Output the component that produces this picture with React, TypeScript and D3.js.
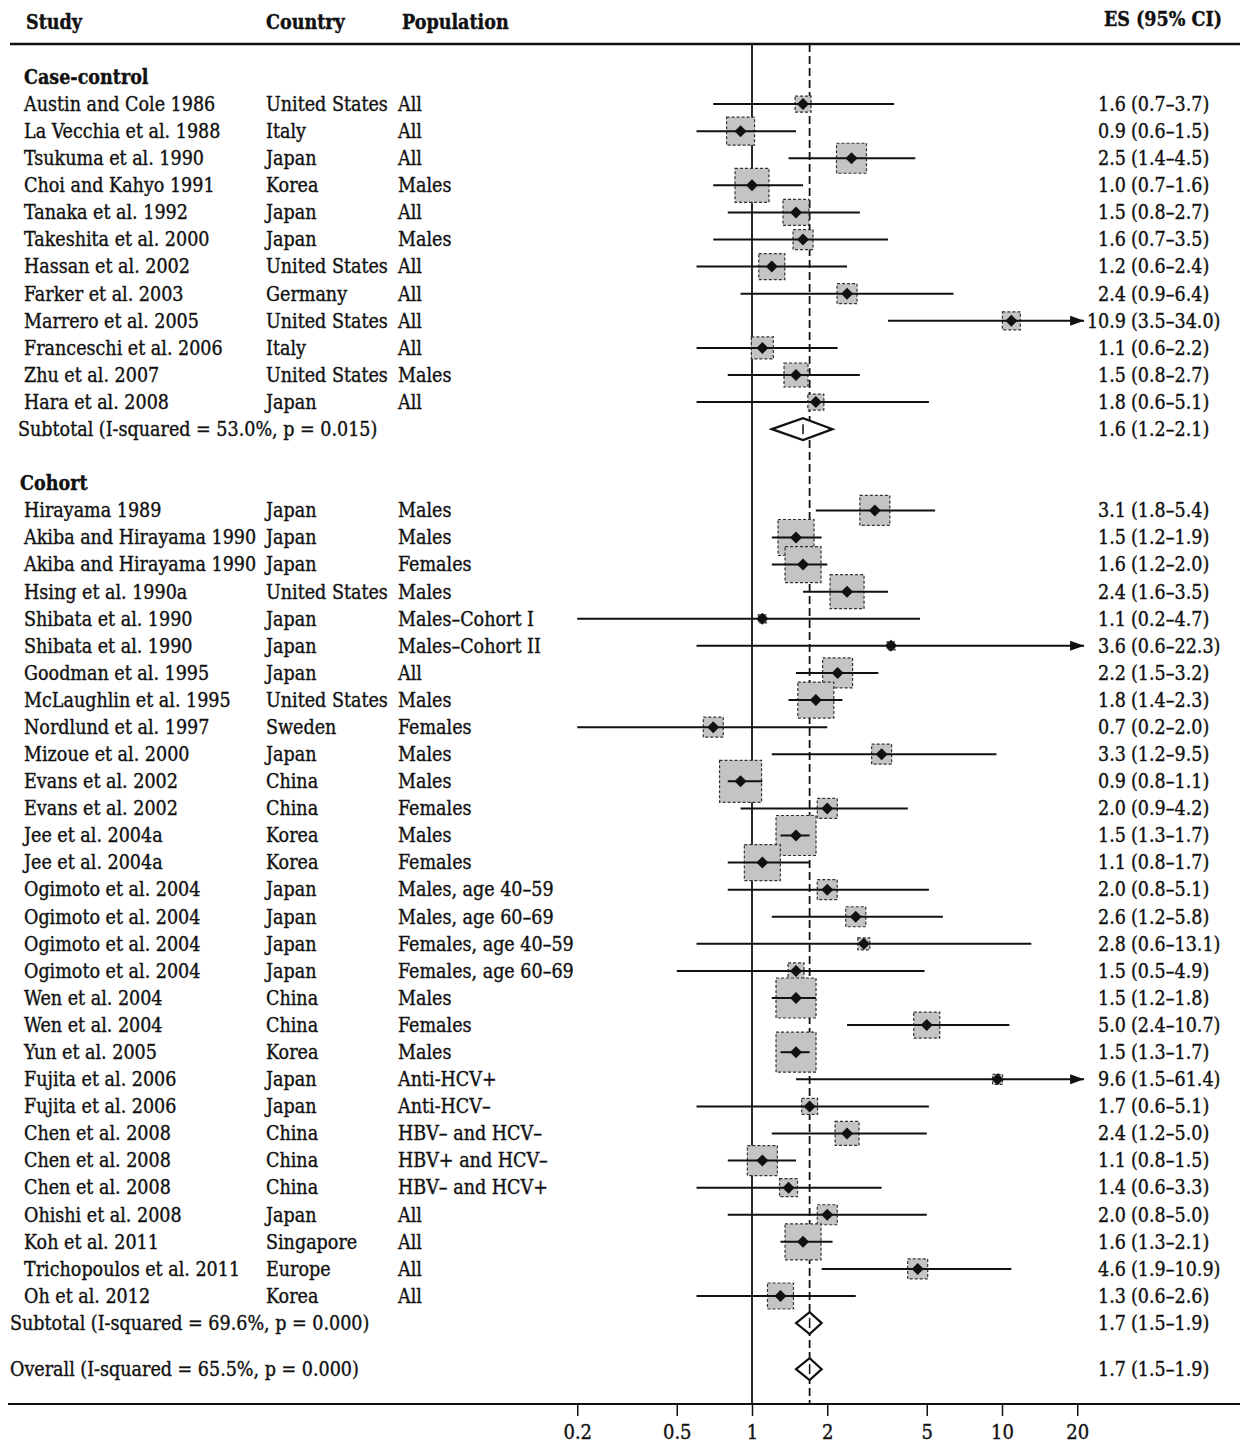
import React, { useEffect, useRef } from 'react';
import * as d3 from 'd3';

// case-control studies
const caseStudies = ['Austin and Cole 1986', 'La Vecchia et al. 1988', 'Tsukuma et al. 1990', 'Choi and Kahyo 1991', 'Tanaka et al. 1992', 'Takeshita et al. 2000', 'Hassan et al. 2002', 'Farker et al. 2003', 'Marrero et al. 2005', 'Franceschi et al. 2006', 'Zhu et al. 2007', 'Hara et al. 2008'];
const caseCountries = ['United States', 'Italy', 'Japan', 'Korea', 'Japan', 'Japan', 'United States', 'Germany', 'United States', 'Italy', 'United States', 'Japan'];
const casePopulations = ['All', 'All', 'All', 'Males', 'All', 'Males', 'All', 'All', 'All', 'All', 'Males', 'All'];
const caseES = [1.6, 0.9, 2.5, 1.0, 1.5, 1.6, 1.2, 2.4, 10.9, 1.1, 1.5, 1.8];
const caseLow = [0.7, 0.6, 1.4, 0.7, 0.8, 0.7, 0.6, 0.9, 3.5, 0.6, 0.8, 0.6];
const caseHigh = [3.7, 1.5, 4.5, 1.6, 2.7, 3.5, 2.4, 6.4, 34.0, 2.2, 2.7, 5.1];
const caseWeights = [0.64, 1.96, 2.25, 2.89, 1.69, 1.0, 1.69, 1.0, 0.81, 1.21, 1.44, 0.64];

// cohort studies
const cohortStudies = ['Hirayama 1989', 'Akiba and Hirayama 1990', 'Akiba and Hirayama 1990', 'Hsing et al. 1990a', 'Shibata et al. 1990', 'Shibata et al. 1990', 'Goodman et al. 1995', 'McLaughlin et al. 1995', 'Nordlund et al. 1997', 'Mizoue et al. 2000', 'Evans et al. 2002', 'Evans et al. 2002', 'Jee et al. 2004a', 'Jee et al. 2004a', 'Ogimoto et al. 2004', 'Ogimoto et al. 2004', 'Ogimoto et al. 2004', 'Ogimoto et al. 2004', 'Wen et al. 2004', 'Wen et al. 2004', 'Yun et al. 2005', 'Fujita et al. 2006', 'Fujita et al. 2006', 'Chen et al. 2008', 'Chen et al. 2008', 'Chen et al. 2008', 'Ohishi et al. 2008', 'Koh et al. 2011', 'Trichopoulos et al. 2011', 'Oh et al. 2012'];
const cohortCountries = ['Japan', 'Japan', 'Japan', 'United States', 'Japan', 'Japan', 'Japan', 'United States', 'Sweden', 'Japan', 'China', 'China', 'Korea', 'Korea', 'Japan', 'Japan', 'Japan', 'Japan', 'China', 'China', 'Korea', 'Japan', 'Japan', 'China', 'China', 'China', 'Japan', 'Singapore', 'Europe', 'Korea'];
const cohortPopulations = ['Males', 'Males', 'Females', 'Males', 'Males–Cohort I', 'Males–Cohort II', 'All', 'Males', 'Females', 'Males', 'Males', 'Females', 'Males', 'Females', 'Males, age 40–59', 'Males, age 60–69', 'Females, age 40–59', 'Females, age 60–69', 'Males', 'Females', 'Males', 'Anti-HCV+', 'Anti-HCV–', 'HBV– and HCV–', 'HBV+ and HCV–', 'HBV– and HCV+', 'All', 'All', 'All', 'All'];
const cohortES = [3.1, 1.5, 1.6, 2.4, 1.1, 3.6, 2.2, 1.8, 0.7, 3.3, 0.9, 2.0, 1.5, 1.1, 2.0, 2.6, 2.8, 1.5, 1.5, 5.0, 1.5, 9.6, 1.7, 2.4, 1.1, 1.4, 2.0, 1.6, 4.6, 1.3];
const cohortLow = [1.8, 1.2, 1.2, 1.6, 0.2, 0.6, 1.5, 1.4, 0.2, 1.2, 0.8, 0.9, 1.3, 0.8, 0.8, 1.2, 0.6, 0.5, 1.2, 2.4, 1.3, 1.5, 0.6, 1.2, 0.8, 0.6, 0.8, 1.3, 1.9, 0.6];
const cohortHigh = [5.4, 1.9, 2.0, 3.5, 4.7, 22.3, 3.2, 2.3, 2.0, 9.5, 1.1, 4.2, 1.7, 1.7, 5.1, 5.8, 13.1, 4.9, 1.8, 10.7, 1.7, 61.4, 5.1, 5.0, 1.5, 3.3, 5.0, 2.1, 10.9, 2.6];
const cohortWeights = [2.25, 3.24, 3.24, 2.89, 0.16, 0.16, 2.25, 3.24, 1.0, 1.0, 4.41, 1.0, 4.0, 3.24, 1.0, 1.0, 0.36, 0.64, 4.0, 1.69, 4.0, 0.25, 0.64, 1.44, 2.25, 0.81, 1.0, 3.24, 1.0, 1.69];

// pooled estimates [es, low, high]
const caseSubtotal = [1.6, 1.2, 2.1];
const cohortSubtotal = [1.7, 1.5, 1.9];
const overall = [1.7, 1.5, 1.9];
const caseSubtotalLabel = 'Subtotal (I-squared = 53.0%, p = 0.015)';
const cohortSubtotalLabel = 'Subtotal (I-squared = 69.6%, p = 0.000)';
const overallLabel = 'Overall (I-squared = 65.5%, p = 0.000)';

const axisTicks = [0.2, 0.5, 1, 2, 5, 10, 20];
const clipMax = 21.3;

const FONT = "'DejaVu Serif Condensed', 'DejaVu Serif', serif";

function App() {
  const svgRef = useRef(null);
  const width = 1247;
  const height = 1445;

  useEffect(() => {
    const svg = d3.select(svgRef.current);
    svg.selectAll('*').remove();

    const x = d3.scaleLog().domain([1, 10]).range([752, 1002]);
    const y = d3.scaleLinear().domain([0, 45]).range([77, 1296]);
    const boxSize = d3.scaleSqrt().domain([0, 1]).range([0, 20]);

    const top = 44;
    const bottom = 1404;
    const esX = 1126;

    const fmt = (v) => d3.format('.1f')(v);

    // the scanned type is heavy, so give regular text a thin outline
    const ink = (sel) => sel
      .attr('font-family', FONT)
      .attr('font-stretch', 'condensed')
      .attr('fill', '#111')
      .attr('stroke', '#111')
      .attr('stroke-width', 0.35);

    const txt = (tx, ty, s, opts = {}) => svg.append('text')
      .attr('x', tx)
      .attr('y', ty)
      .attr('dy', '0.35em')
      .call(ink)
      .attr('font-size', opts.size || 19.5)
      .attr('font-weight', opts.bold ? 'bold' : 'normal')
      .attr('text-anchor', opts.anchor || 'start')
      .text(s);

    // header
    txt(26, 22, 'Study', { bold: true });
    txt(266, 22, 'Country', { bold: true });
    txt(402, 22, 'Population', { bold: true });
    txt(1222, 19, 'ES (95% CI)', { bold: true, anchor: 'end' });

    svg.append('line').attr('x1', 10).attr('x2', 1240).attr('y1', top).attr('y2', top)
      .attr('stroke', '#111').attr('stroke-width', 2.5);
    svg.append('line').attr('x1', 8).attr('x2', 1240).attr('y1', bottom).attr('y2', bottom)
      .attr('stroke', '#111').attr('stroke-width', 2);

    // null line and overall line
    svg.append('line').attr('x1', x(1)).attr('x2', x(1)).attr('y1', top).attr('y2', bottom)
      .attr('stroke', '#111').attr('stroke-width', 1.8);
    svg.append('line').attr('x1', x(overall[0])).attr('x2', x(overall[0])).attr('y1', top).attr('y2', bottom)
      .attr('stroke', '#111').attr('stroke-width', 1.8).attr('stroke-dasharray', '8 4');

    const drawEs = (ty, es, lo, hi) => {
      const esText = svg.append('text')
        .attr('y', ty).attr('dy', '0.35em')
        .call(ink)
        .attr('font-size', 19.5);
      esText.append('tspan').attr('x', esX).attr('text-anchor', 'end').text(fmt(es));
      esText.append('tspan').attr('x', esX + 5).attr('text-anchor', 'start').text(`(${fmt(lo)}–${fmt(hi)})`);
    };

    const drawStudy = (row, study, country, pop, es, lo, hi, w) => {
      const ty = y(row);
      txt(24, ty, study);
      txt(266, ty, country);
      txt(398, ty, pop);
      drawEs(ty, es, lo, hi);

      const s = boxSize(w);
      svg.append('rect')
        .attr('x', x(es) - s / 2).attr('y', ty - s / 2)
        .attr('width', s).attr('height', s)
        .attr('fill', '#c4c4c4').attr('stroke', '#333').attr('stroke-width', 1.2)
        .attr('stroke-dasharray', '3 2');

      const x2 = hi > clipMax ? x(clipMax) : x(hi);
      svg.append('line')
        .attr('x1', x(lo)).attr('x2', x2).attr('y1', ty).attr('y2', ty)
        .attr('stroke', '#111').attr('stroke-width', 2);
      if (hi > clipMax) {
        svg.append('path')
          .attr('d', `M${x2},${ty}L${x2 - 14},${ty - 5}L${x2 - 14},${ty + 5}Z`)
          .attr('fill', '#111');
      }
      const p = x(es);
      svg.append('path')
        .attr('d', `M${p - 6},${ty}L${p},${ty - 6}L${p + 6},${ty}L${p},${ty + 6}Z`)
        .attr('fill', '#111');
    };

    const drawPooled = (ty, tx, label, est) => {
      txt(tx, ty, label);
      drawEs(ty, est[0], est[1], est[2]);
      const [es, lo, hi] = est;
      svg.append('path')
        .attr('d', `M${x(lo)},${ty}L${x(es)},${ty - 11}L${x(hi)},${ty}L${x(es)},${ty + 11}Z`)
        .attr('fill', '#fff').attr('stroke', '#111').attr('stroke-width', 2.2);
      svg.append('line').attr('x1', x(es)).attr('x2', x(es)).attr('y1', ty - 5).attr('y2', ty + 5)
        .attr('stroke', '#111').attr('stroke-width', 1.5);
    };

    // case-control block
    txt(24, y(0), 'Case-control', { bold: true });
    caseStudies.forEach((s, i) => {
      drawStudy(i + 1, s, caseCountries[i], casePopulations[i], caseES[i], caseLow[i], caseHigh[i], caseWeights[i]);
    });
    drawPooled(y(caseStudies.length + 1), 18, caseSubtotalLabel, caseSubtotal);

    // cohort block
    const cohortStart = caseStudies.length + 3;
    txt(20, y(cohortStart), 'Cohort', { bold: true });
    cohortStudies.forEach((s, i) => {
      drawStudy(cohortStart + 1 + i, s, cohortCountries[i], cohortPopulations[i], cohortES[i], cohortLow[i], cohortHigh[i], cohortWeights[i]);
    });
    const cohortEnd = cohortStart + cohortStudies.length + 1;
    drawPooled(y(cohortEnd), 10, cohortSubtotalLabel, cohortSubtotal);
    drawPooled(y(cohortEnd + 1.7), 10, overallLabel, overall);

    // x axis
    const axis = d3.axisBottom(x)
      .tickValues(axisTicks)
      .tickFormat((d) => String(d))
      .tickSize(12)
      .tickPadding(9);
    const g = svg.append('g').attr('transform', `translate(0,${bottom})`).call(axis);
    g.select('.domain').remove();
    g.selectAll('.tick line').attr('stroke', '#111').attr('stroke-width', 1.5);
    g.selectAll('.tick text')
      .call(ink)
      .attr('font-size', 20);
  }, []);

  return (
    <svg
      ref={svgRef}
      width={width}
      height={height}
      style={{ position: 'absolute', left: 0, top: 0, background: '#fff' }}
    />
  );
}

export default App;
